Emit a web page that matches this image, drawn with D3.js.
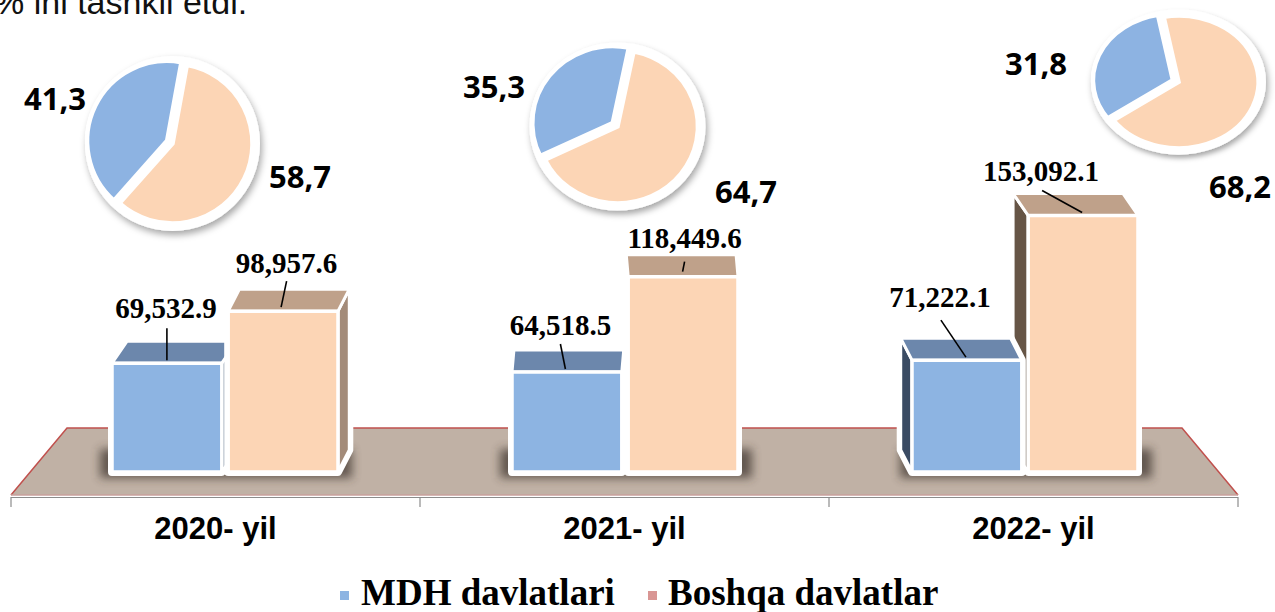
<!DOCTYPE html>
<html><head><meta charset="utf-8">
<script src="https://cdn.jsdelivr.net/npm/d3@7"></script>
<style>body{margin:0;background:#fff;overflow:hidden}svg{display:block}</style>
</head><body>
<svg id="chart" width="1275" height="612"></svg>
<script>
// ---------- DATA ----------
const years = ["2020- yil", "2021- yil", "2022- yil"];
const seriesNames = ["MDH davlatlari", "Boshqa davlatlar"];
const mdhValues = [69532.9, 64518.5, 71222.1];
const otherValues = [98957.6, 118449.6, 153092.1];
const mdhShares = [41.3, 35.3, 31.8];
const otherShares = [58.7, 64.7, 68.2];
const titleText = "% ini tashkil etdi.";

// ---------- LAYOUT / STYLE ----------
const svg = d3.select("#chart");
const defs = svg.append("defs");
const fBlur = defs.append("filter").attr("id", "blurShadow").attr("x", "-50%").attr("y", "-50%").attr("width", "200%").attr("height", "200%");
fBlur.append("feGaussianBlur").attr("stdDeviation", 5);
const fDrop = defs.append("filter").attr("id", "pieShadow").attr("x", "-30%").attr("y", "-30%").attr("width", "160%").attr("height", "160%");
fDrop.append("feDropShadow").attr("dx", 2).attr("dy", 4).attr("stdDeviation", 3.5).attr("flood-color", "#000").attr("flood-opacity", 0.35);

const serif = "'Liberation Serif','Times New Roman',serif";
const sans = "'Liberation Sans',Arial,sans-serif";
const pieFont = "'Open Sans','Noto Sans',sans-serif";

const colors = {
  front: ["#8db4e2", "#fcd5b5"],
  top: ["#6c87ac", "#bfa18a"],
  sideL: ["#3a4b63", "#665546"],
  sideR: ["#5d6f88", "#a38b79"],
  legend: ["#8db4e2", "#d99694"],
  pie: ["#8db3e2", "#fcd5b5"]
};

// title fragment
svg.append("text").attr("x", -6).attr("y", 14)
  .attr("font-family", sans).attr("font-size", 34).attr("fill", "#111")
  .text(titleText);

// ---------- FLOOR & AXIS ----------
const axisX = d3.scaleBand().domain(years).range([11, 1238]);
const floorBack = 428, floorFront = 495, floorInset = 56;
const [ax0, ax1] = axisX.range();
svg.append("path")
  .attr("d", d3.line()([[ax0 + floorInset, floorBack], [ax1 - floorInset, floorBack], [ax1, floorFront], [ax0, floorFront]]) + "Z")
  .attr("fill", "#c0b1a5");
svg.append("path")
  .attr("d", d3.line()([[ax0, floorFront], [ax0 + floorInset, floorBack], [ax1 - floorInset, floorBack], [ax1, floorFront]]))
  .attr("fill", "none").attr("stroke", "#c0504d").attr("stroke-width", 1.5);
svg.append("line").attr("x1", ax0).attr("x2", ax1).attr("y1", floorFront).attr("y2", floorFront)
  .attr("stroke", "#c9a19c").attr("stroke-width", 1.5);
svg.append("line").attr("x1", ax0).attr("x2", ax1).attr("y1", 497.5).attr("y2", 497.5)
  .attr("stroke", "#8c8c8c").attr("stroke-width", 1);
const tickXs = years.map(d => axisX(d)).concat([ax1]);
svg.selectAll(".tick").data(tickXs).join("line")
  .attr("x1", d => d).attr("x2", d => d).attr("y1", 497).attr("y2", 507)
  .attr("stroke", "#8c8c8c").attr("stroke-width", 1.2);
svg.selectAll(".cat").data(years).join("text")
  .attr("x", d => axisX(d) + axisX.bandwidth() / 2).attr("y", 539)
  .attr("text-anchor", "middle").attr("font-family", sans).attr("font-weight", "bold")
  .attr("font-size", 31).attr("fill", "#000").text(d => d);

// ---------- BARS ----------
const x0 = d3.scaleBand().domain(years).range([25, 1225]);
const groupW = 226;
const x1 = d3.scaleBand().domain(seriesNames).range([0, groupW]).paddingInner(0.055);
const y = d3.scaleLinear().domain([0, 160000]).range([486, 203.3]);
const baseY = 472, depthDy = -22, kx = -0.033, vpx = 625;

// label offsets relative to (bar centre, bar top): [labelDx, labelDy, leadStartDx, leadStartDy, leadEndDx, leadEndDy]
const labelOffsets = [
  [[-1, -45, 0, -35, 0, -3], [3.5, -38, 3.5, -30, -2, -4]],
  [[-6.5, -37, -6.5, -28, -1.5, -3], [1.5, -29, 1.5, -15, -0.5, -5]],
  [[-27, -53, -26, -40, -1, -3], [-42, -35, -41, -25, -1, -3]]
];
const fmtVal = d3.format(",.1f");

years.forEach((yr, gi) => {
  const vals = [mdhValues[gi], otherValues[gi]];
  const gLeft = x0(yr) + x0.bandwidth() / 2 - groupW / 2;
  const g = svg.append("g");
  // floor shadow
  g.append("rect").attr("x", gLeft - 12).attr("y", 449).attr("width", groupW + 26).attr("height", 29)
    .attr("fill", "#3a3029").attr("opacity", 0.7).attr("filter", "url(#blurShadow)");
  const bars = seriesNames.map((s, si) => {
    const xL = gLeft + x1(s), xR = xL + x1.bandwidth();
    return { si, v: vals[si], xL, xR, yT: y(vals[si]), dx: kx * ((xL + xR) / 2 - vpx) };
  });
  const gc = gLeft + groupW / 2;
  const order = gc < vpx ? bars : bars.slice().reverse();
  order.forEach(b => {
    const { xL, xR, yT, dx, si } = b;
    const dy = depthDy, yB = baseY;
    const front = [[xL, yT], [xR, yT], [xR, yB], [xL, yB]];
    const top = [[xL, yT], [xR, yT], [xR + dx, yT + dy], [xL + dx, yT + dy]];
    const side = dx >= 0
      ? [[xR, yT], [xR + dx, yT + dy], [xR + dx, yB + dy], [xR, yB]]
      : [[xL, yT], [xL + dx, yT + dy], [xL + dx, yB + dy], [xL, yB]];
    const hull = d3.polygonHull(front.concat(top, side));
    const poly = pts => d3.line()(pts) + "Z";
    g.append("path").attr("d", poly(hull)).attr("fill", "#fff").attr("stroke", "#fff")
      .attr("stroke-width", 8).attr("stroke-linejoin", "round");
    g.append("path").attr("d", poly(side)).attr("fill", dx >= 0 ? colors.sideR[si] : colors.sideL[si])
      .attr("stroke", "#fff").attr("stroke-width", 3).attr("stroke-linejoin", "round");
    g.append("path").attr("d", poly(top)).attr("fill", colors.top[si])
      .attr("stroke", "#fff").attr("stroke-width", 3).attr("stroke-linejoin", "round");
    g.append("path").attr("d", poly(front)).attr("fill", colors.front[si])
      .attr("stroke", "#fff").attr("stroke-width", 3.5).attr("stroke-linejoin", "round");
  });
  // labels
  bars.forEach(b => {
    const o = labelOffsets[gi][b.si];
    const cx = (b.xL + b.xR) / 2;
    svg.append("line")
      .attr("x1", cx + o[2]).attr("y1", b.yT + o[3]).attr("x2", cx + o[4]).attr("y2", b.yT + o[5])
      .attr("stroke", "#000").attr("stroke-width", 1.6);
    svg.append("text").attr("x", cx + o[0]).attr("y", b.yT + o[1])
      .attr("text-anchor", "middle").attr("font-family", serif).attr("font-weight", "bold")
      .attr("font-size", 29).attr("fill", "#000").text(fmtVal(b.v));
  });
});

// ---------- PIES ----------
const pieLayout = [
  { cx: 172.5, cy: 143.5, r: 80, sy: 1.0, mid: -64, labels: [[55, 110], [300, 188]] },
  { cx: 617.5, cy: 126.5, r: 80.5, sy: 0.955, mid: -52, labels: [[494, 98], [746, 203]] },
  { cx: 1178.5, cy: 82, r: 80, sy: 0.83, mid: -68, labels: [[1036, 75], [1240, 198]] }
];
const commaLocale = d3.formatLocale({ decimal: ",", thousands: " ", grouping: [3], currency: ["", ""] });
const fmtShare = commaLocale.format(".1f");
const rad = Math.PI / 180;

years.forEach((yr, i) => {
  const L = pieLayout[i];
  const shares = [mdhShares[i], otherShares[i]];
  const total = d3.sum(shares);
  const blueSpan = shares[0] / total * 2 * Math.PI;
  const start = L.mid * rad - blueSpan / 2;
  const arcs = d3.pie().sort(null).value(d => d).startAngle(start).endAngle(start + 2 * Math.PI)(shares);
  const arc = d3.arc().innerRadius(0).outerRadius(L.r);
  const g = svg.append("g").attr("transform", `translate(${L.cx},${L.cy}) scale(1,${L.sy})`);
  g.append("circle").attr("r", L.r + 7.5).attr("fill", "#fff").attr("filter", "url(#pieShadow)");
  const ex = 6;
  [1, 0].forEach(k => {
    const a = arcs[k];
    const m = (a.startAngle + a.endAngle) / 2;
    const off = k === 0 ? ex : 0;
    g.append("path").attr("d", arc(a))
      .attr("transform", `translate(${Math.sin(m) * off},${-Math.cos(m) * off})`)
      .attr("fill", colors.pie[k]).attr("stroke", "#fff").attr("stroke-width", 4.5)
      .attr("stroke-linejoin", "miter").attr("vector-effect", "non-scaling-stroke");
  });
  shares.forEach((v, k) => {
    svg.append("text").attr("x", L.labels[k][0]).attr("y", L.labels[k][1])
      .attr("text-anchor", "middle").attr("font-family", pieFont).attr("font-weight", "bold")
      .attr("font-size", 31).attr("fill", "#000").text(fmtShare(v));
  });
});

// ---------- LEGEND ----------
const legendItems = [{ x: 340, tx: 361 }, { x: 648, tx: 668 }];
seriesNames.forEach((s, i) => {
  svg.append("rect").attr("x", legendItems[i].x).attr("y", 591).attr("width", 9).attr("height", 9)
    .attr("fill", colors.legend[i]);
  svg.append("text").attr("x", legendItems[i].tx).attr("y", 605)
    .attr("font-family", serif).attr("font-weight", "bold").attr("font-size", 37)
    .attr("fill", "#000").text(s);
});
</script>
</body></html>
